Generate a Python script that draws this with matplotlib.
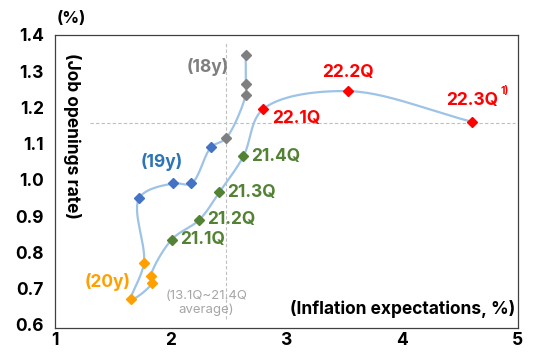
import numpy as np
import matplotlib
matplotlib.use("Agg")
import matplotlib.pyplot as plt

plt.rcParams['font.family'] = ['Inter', 'DejaVu Sans']

# data (x: inflation expectations, y: job openings rate)
years = ["18y", "18y", "18y", "18y",
         "19y", "19y", "19y", "19y",
         "20y", "20y", "20y", "20y",
         "21y", "21y", "21y", "21y",
         "22y", "22y", "22y"]
infl_exp = [2.65, 2.65, 2.65, 2.48,
            2.35, 2.18, 2.02, 1.73,
            1.77, 1.66, 1.84, 1.83,
            2.01, 2.25, 2.42, 2.63,
            2.80, 3.53, 4.61]
job_open = [1.345, 1.265, 1.235, 1.115,
            1.09, 0.99, 0.99, 0.95,
            0.77, 0.67, 0.715, 0.735,
            0.835, 0.89, 0.965, 1.065,
            1.195, 1.245, 1.16]
quarter_labels = {12: "21.1Q", 13: "21.2Q", 14: "21.3Q", 15: "21.4Q",
                  16: "22.1Q", 17: "22.2Q", 18: "22.3Q"}
avg_x = 2.48   # 13.1Q~21.4Q average
avg_y = 1.157

year_colors = {"18y": "#7f7f7f", "19y": "#4472c4", "20y": "#ffa000",
               "21y": "#548235", "22y": "#ff0000"}
label_colors = {"18y": "#7f7f7f", "19y": "#2e75b6", "20y": "#ffa000"}


def catmull_rom(px, py, n=30, alpha=0.5):
    # centripetal catmull-rom through all the points (in pixel-like units)
    pts = np.column_stack([px, py])
    pts = np.vstack([2 * pts[0] - pts[1], pts, 2 * pts[-1] - pts[-2]])
    out = []
    for i in range(1, len(pts) - 2):
        p0, p1, p2, p3 = pts[i - 1], pts[i], pts[i + 1], pts[i + 2]
        t0 = 0.0
        t1 = t0 + np.linalg.norm(p1 - p0) ** alpha + 1e-9
        t2 = t1 + np.linalg.norm(p2 - p1) ** alpha + 1e-9
        t3 = t2 + np.linalg.norm(p3 - p2) ** alpha + 1e-9
        t = np.linspace(t1, t2, n)[:, None]
        a1 = (t1 - t) / (t1 - t0) * p0 + (t - t0) / (t1 - t0) * p1
        a2 = (t2 - t) / (t2 - t1) * p1 + (t - t1) / (t2 - t1) * p2
        a3 = (t3 - t) / (t3 - t2) * p2 + (t - t2) / (t3 - t2) * p3
        b1 = (t2 - t) / (t2 - t0) * a1 + (t - t0) / (t2 - t0) * a2
        b2 = (t3 - t) / (t3 - t1) * a2 + (t - t1) / (t3 - t1) * a3
        c = (t2 - t) / (t2 - t1) * b1 + (t - t1) / (t2 - t1) * b2
        out.append(c)
    out = np.vstack(out)
    return out[:, 0], out[:, 1]


fig = plt.figure(figsize=(5.38, 3.53), dpi=100)
ax = fig.add_axes([0.102, 0.072, 0.86, 0.829])
ax.set_xlim(1, 5)
ax.set_ylim(0.592, 1.4)

# reference crosshair
ax.plot([avg_x, avg_x], [0.615, 1.38], color="#bfbfbf", lw=0.8, ls=(0, (3, 2)), zorder=1)
ax.plot([1.3, 4.98], [avg_y, avg_y], color="#bfbfbf", lw=0.8, ls=(0, (3, 2)), zorder=1)

# smooth path, scaled so the spline works in roughly screen units
sx, sy = 116.0, 362.5
cx, cy = catmull_rom(np.array(infl_exp) * sx, np.array(job_open) * sy)
ax.plot(cx / sx, cy / sy, color="#9dc3e6", lw=1.6, zorder=2)

for x, y, yr in zip(infl_exp, job_open, years):
    ax.plot(x, y, marker="D", ms=5.5, color=year_colors[yr], mec=year_colors[yr], zorder=3)

# quarter labels
offs = {12: (8, 0, "left", "center"), 13: (8, 0, "left", "center"),
        14: (8, 0, "left", "center"), 15: (8, 0, "left", "center"),
        16: (9, -9, "left", "center"), 17: (0, 19, "center", "center"),
        18: (0, 21, "center", "center")}
for i, lab in quarter_labels.items():
    dx, dy, ha, va = offs[i]
    ax.annotate(lab, (infl_exp[i], job_open[i]), xytext=(dx, dy), textcoords="offset pixels",
                ha=ha, va=va, fontsize=12.5, fontweight="bold", color=year_colors[years[i]])
ax.annotate("1)", (infl_exp[18], job_open[18]), xytext=(32, 31), textcoords="offset pixels",
            ha="center", va="center", fontsize=7.5, fontweight="bold", color="#ff0000")

# year labels
ax.text(2.32, 1.312, "(18y)", ha="center", va="center", fontsize=12.5, fontweight="bold",
        color=label_colors["18y"])
ax.text(1.92, 1.05, "(19y)", ha="center", va="center", fontsize=12.5, fontweight="bold",
        color=label_colors["19y"])
ax.text(1.46, 0.719, "(20y)", ha="center", va="center", fontsize=12.5, fontweight="bold",
        color=label_colors["20y"])
ax.text(2.31, 0.66, "(13.1Q~21.4Q\naverage)", ha="center", va="center", fontsize=9.5,
        color="#a6a6a6", linespacing=1.25)

ax.text(0.995, 0.065, "(Inflation expectations, %)", transform=ax.transAxes, ha="right",
        va="center", fontsize=12.5, fontweight="bold")
ax.text(0.036, 0.655, "(Job openings rate)", transform=ax.transAxes, ha="center",
        va="center", rotation=270, fontsize=12.5, fontweight="bold")
ax.text(0.036, 1.055, "(%)", transform=ax.transAxes, ha="center", va="center",
        fontsize=12, fontweight="bold")

ax.set_xticks([1, 2, 3, 4, 5])
ax.set_yticks(np.round(np.arange(0.6, 1.41, 0.1), 1))
ax.set_yticklabels([f"{v:.1f}" for v in np.arange(0.6, 1.41, 0.1)])
ax.tick_params(length=0, labelsize=12.5, pad=8)
ax.tick_params(axis="x", pad=3)
for t in ax.get_xticklabels() + ax.get_yticklabels():
    t.set_fontweight("bold")
for s in ax.spines.values():
    s.set_color("#404040")
    s.set_linewidth(0.9)

fig.savefig("out.png", dpi=100)
